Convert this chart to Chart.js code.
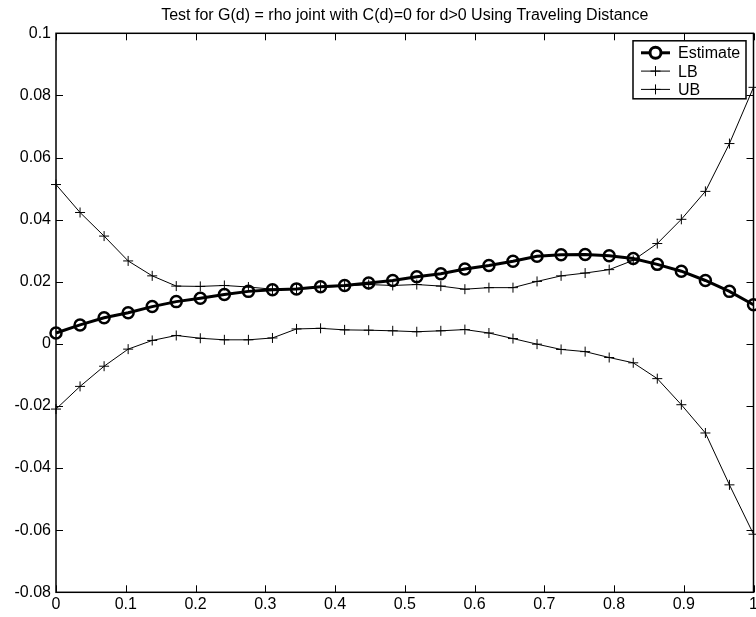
<!DOCTYPE html>
<html>
<head>
<meta charset="utf-8">
<script src="https://cdn.jsdelivr.net/npm/chart.js@4"></script>
<style>
  body { margin: 0; background: #fff; }
  #wrap { width: 756px; height: 617px; position: relative; }
</style>
</head>
<body>
<div id="wrap"><canvas id="chart"></canvas></div>
<script>
// Data (30 points, d from 0 to 1)
const distances = Array.from({ length: 30 }, (_, i) => i / 29);
const estimate = [0.0035, 0.0061, 0.0084, 0.0100, 0.0120, 0.0136, 0.0147, 0.0159, 0.0169, 0.0174,
                  0.0177, 0.0184, 0.0188, 0.0196, 0.0204, 0.0216, 0.0226, 0.0241, 0.0252, 0.0266,
                  0.0282, 0.0287, 0.0288, 0.0284, 0.0275, 0.0256, 0.0234, 0.0204, 0.0169, 0.0126];
const lowerBound = [-0.0210, -0.0137, -0.0072, -0.0017, 0.0011, 0.0027, 0.0018, 0.0013, 0.0013, 0.0019,
                    0.0048, 0.0050, 0.0045, 0.0044, 0.0042, 0.0039, 0.0042, 0.0046, 0.0035, 0.0017,
                    -0.0001, -0.0018, -0.0025, -0.0044, -0.0061, -0.0112, -0.0196, -0.0287, -0.0454, -0.0613];
const upperBound = [0.0513, 0.0423, 0.0347, 0.0267, 0.0219, 0.0186, 0.0185, 0.0188, 0.0183, 0.0176,
                    0.0177, 0.0182, 0.0186, 0.0191, 0.0188, 0.0191, 0.0186, 0.0176, 0.0181, 0.0181,
                    0.0201, 0.0219, 0.0228, 0.0239, 0.0269, 0.0323, 0.0401, 0.0491, 0.0645, 0.0826];
const xTicks = [0, 0.1, 0.2, 0.3, 0.4, 0.5, 0.6, 0.7, 0.8, 0.9, 1];
const yTicks = [-0.08, -0.06, -0.04, -0.02, 0, 0.02, 0.04, 0.06, 0.08, 0.1];

const FONT = 'Liberation Sans, Arial, Helvetica, sans-serif';

function toPoints(values) {
    return values.map((v, i) => ({ x: distances[i], y: v }));
}

// Box around the axes with inward ticks on all four sides (MATLAB look)
const framePlugin = {
    id: 'frame',
    beforeDatasetsDraw(chart) {
        const ctx = chart.ctx;
        const a = chart.chartArea;
        const xs = chart.scales.x, ys = chart.scales.y;
        const len = 7;
        ctx.save();
        ctx.strokeStyle = '#000';
        ctx.lineWidth = 1;
        ctx.beginPath();
        xTicks.forEach(t => {
            const px = Math.round(xs.getPixelForValue(t)) + 0.5;
            ctx.moveTo(px, a.bottom); ctx.lineTo(px, a.bottom - len);
            ctx.moveTo(px, a.top); ctx.lineTo(px, a.top + len);
        });
        yTicks.forEach(t => {
            const py = Math.round(ys.getPixelForValue(t)) + 0.5;
            ctx.moveTo(a.left, py); ctx.lineTo(a.left + len, py);
            ctx.moveTo(a.right, py); ctx.lineTo(a.right - len, py);
        });
        ctx.stroke();
        ctx.lineWidth = 1.5;
        ctx.strokeRect(a.left, a.top, a.right - a.left, a.bottom - a.top);
        ctx.restore();
    }
};

// Legend boxed inside the top right corner of the axes
const boxLegendPlugin = {
    id: 'boxLegend',
    afterDraw(chart) {
        const ctx = chart.ctx;
        const a = chart.chartArea;
        const w = 113, h = 58;
        const x0 = a.right - 7.5 - w, y0 = a.top + 7.5;
        ctx.save();
        ctx.fillStyle = '#fff';
        ctx.fillRect(x0, y0, w, h);
        ctx.strokeStyle = '#000';
        ctx.lineWidth = 1.5;
        ctx.strokeRect(x0, y0, w, h);
        ctx.font = '16px ' + FONT;
        ctx.textBaseline = 'middle';
        chart.data.datasets.forEach((ds, i) => {
            const cy = y0 + 12 + i * 18.3;
            ctx.strokeStyle = '#000';
            ctx.lineWidth = ds.borderWidth;
            ctx.beginPath();
            ctx.moveTo(x0 + 8, cy);
            ctx.lineTo(x0 + 37, cy);
            ctx.stroke();
            Chart.helpers.drawPoint(ctx, {
                pointStyle: ds.pointStyle,
                radius: ds.pointRadius,
                borderWidth: ds.pointBorderWidth,
                rotation: 0
            }, x0 + 22.5, cy);
            ctx.fillStyle = '#000';
            ctx.fillText(ds.label, x0 + 45, cy + 1);
        });
        ctx.restore();
    }
};

const ctx = document.getElementById('chart').getContext('2d');
new Chart(ctx, {
    type: 'line',
    data: {
        datasets: [
            {
                label: 'Estimate',
                data: toPoints(estimate),
                borderColor: '#000',
                borderWidth: 3,
                pointStyle: 'circle',
                pointRadius: 5.5,
                pointBorderWidth: 2.5,
                pointBorderColor: '#000',
                pointBackgroundColor: 'rgba(0,0,0,0)',
                tension: 0,
                clip: false
            },
            {
                label: 'LB',
                data: toPoints(lowerBound),
                borderColor: '#000',
                borderWidth: 1,
                pointStyle: 'cross',
                pointRadius: 5,
                pointBorderWidth: 1,
                pointBorderColor: '#000',
                tension: 0,
                clip: false
            },
            {
                label: 'UB',
                data: toPoints(upperBound),
                borderColor: '#000',
                borderWidth: 1,
                pointStyle: 'cross',
                pointRadius: 5,
                pointBorderWidth: 1,
                pointBorderColor: '#000',
                tension: 0,
                clip: false
            }
        ]
    },
    options: {
        responsive: true,
        maintainAspectRatio: false,
        animation: false,
        layout: { autoPadding: false, padding: { left: 0, right: 2.5, top: 0, bottom: 0 } },
        plugins: {
            legend: { display: false },
            tooltip: { enabled: false },
            title: {
                display: true,
                text: 'Test for G(d) = rho joint with C(d)=0 for d>0 Using Traveling Distance',
                color: '#000',
                fullSize: false,
                font: { family: FONT, size: 16, weight: 'normal', lineHeight: 1.2 },
                padding: { top: 6, bottom: 8.1 }
            }
        },
        scales: {
            x: {
                type: 'linear',
                min: 0,
                max: 1,
                afterBuildTicks: s => { s.ticks = xTicks.map(v => ({ value: v })); },
                afterFit: s => { s.height = 24.7; s.paddingLeft = 0; s.paddingRight = 0; },
                grid: { display: false, drawTicks: false },
                border: { display: false },
                ticks: {
                    color: '#000',
                    padding: 3,
                    maxRotation: 0,
                    font: { family: FONT, size: 16 },
                    callback: v => String(+v.toFixed(2))
                }
            },
            y: {
                type: 'linear',
                min: -0.08,
                max: 0.1,
                afterBuildTicks: s => { s.ticks = yTicks.map(v => ({ value: v })); },
                afterFit: s => { s.width = 56; s.paddingTop = 0; s.paddingBottom = 0; },
                grid: { display: false, drawTicks: false },
                border: { display: false },
                ticks: {
                    color: '#000',
                    padding: 5,
                    font: { family: FONT, size: 16 },
                    callback: v => String(+v.toFixed(2))
                }
            }
        }
    },
    plugins: [framePlugin, boxLegendPlugin]
});
</script>
</body>
</html>
